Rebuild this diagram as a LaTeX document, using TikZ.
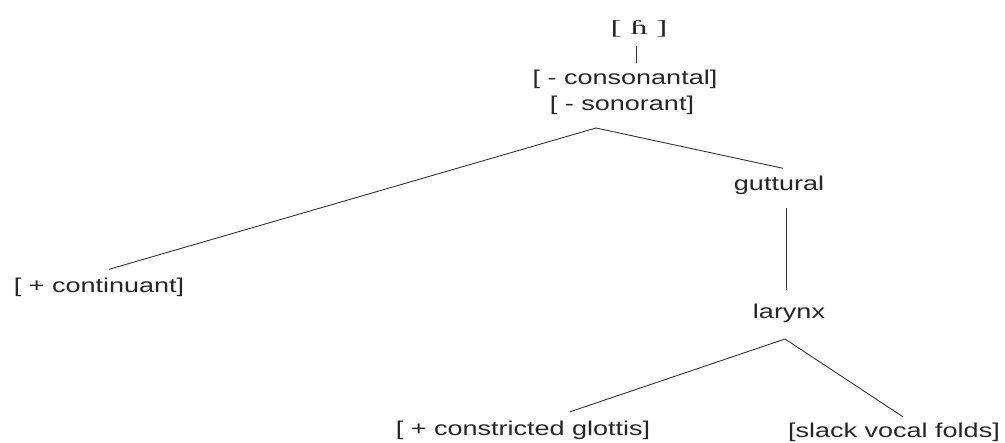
\documentclass[tikz,border=0pt]{standalone}
\usepackage{fontspec}
\setmainfont{Liberation Sans}
\newfontfamily\featfont[FakeStretch=1.35]{Liberation Sans}
\newfontfamily\ipafont[FakeStretch=1.7]{Liberation Serif}
\usetikzlibrary{calc}

\begin{document}
\begin{tikzpicture}[x=1pt, y=-1pt,
  feat/.style={font=\featfont\fontsize{20}{26}\selectfont, text=black!85,
               inner sep=0pt, text height=15pt, text depth=4pt},
  seg/.style={font=\ipafont\fontsize{20}{26}\selectfont, text=black!85, inner sep=0pt},
  branch/.style={line width=0.9pt, color=black!80}
]
  \useasboundingbox (0,0) rectangle (1005,443);

  \node[seg] (hfn) at (639,29) {[ ɦ ]};
  \node[feat] (cons) at (625,79) {[ - consonantal]};
  \node[feat] (son) at (622,105) {[ - sonorant]};
  \node[feat] (cont) at (99,287) {[ + continuant]};
  \node[feat] (gutt) at (779,185) {guttural};
  \node[feat] (lar) at (789,313) {larynx};
  \node[feat] (glot) at (523,430) {[ + constricted glottis]};
  \node[feat] (slack) at (894,432) {[slack vocal folds]};

  \coordinate (top) at (596,128);
  \coordinate (lsplit) at (785,339);

  \draw[branch] ([xshift=-3pt,yshift=-8pt]hfn.south) -- ([xshift=11pt,yshift=6pt]cons.north);
  \draw[branch] ([xshift=10pt,yshift=8pt]cont.north) -- (top) -- ([xshift=4pt,yshift=7pt]gutt.north);
  \draw[branch] ([xshift=7pt,yshift=-13.5pt]gutt.south) -- ([xshift=-3pt,yshift=13.5pt]lar.north);
  \draw[branch] ([xshift=47pt,yshift=8.5pt]glot.north) -- (lsplit) -- ([xshift=9pt,yshift=5.5pt]slack.north);
\end{tikzpicture}
\end{document}
